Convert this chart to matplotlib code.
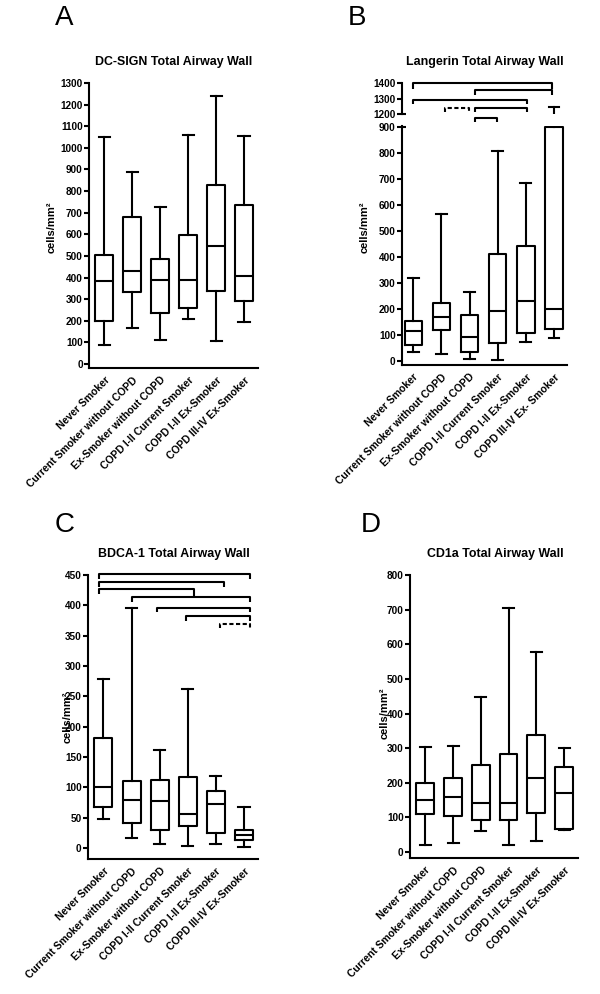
import matplotlib
matplotlib.use('Agg')
import matplotlib.pyplot as plt

plt.rcParams['font.family'] = ['Liberation Sans', 'DejaVu Sans']

groups = ['Never Smoker', 'Current Smoker without COPD', 'Ex-Smoker without COPD',
          'COPD I-II Current Smoker', 'COPD I-II Ex-Smoker', 'COPD III-IV Ex-Smoker']
groups_b = groups[:5] + ['COPD III-IV Ex- Smoker']
pos = [1, 2, 3, 4, 5, 6]

# box summaries: whisker low, Q1, median, Q3, whisker high
dcsign_lo = [90, 165, 110, 208, 106, 194]
dcsign_q1 = [200, 335, 237, 260, 339, 293]
dcsign_med = [383, 430, 387, 390, 544, 405]
dcsign_q3 = [505, 680, 487, 598, 826, 737]
dcsign_hi = [1050, 890, 725, 1058, 1238, 1053]

lang_lo = [36, 28, 9, 4, 72, 87]
lang_q1 = [60, 118, 35, 70, 106, 122]
lang_med = [115, 170, 91, 192, 231, 199]
lang_q3 = [154, 224, 178, 410, 440, 900]
lang_hi = [318, 563, 264, 805, 685, 1250]

bdca_lo = [48, 17, 6, 3, 7, 1]
bdca_q1 = [67, 42, 29, 37, 25, 14]
bdca_med = [100, 80, 77, 56, 73, 22]
bdca_q3 = [181, 111, 113, 117, 94, 29]
bdca_hi = [278, 395, 161, 262, 118, 68]

cd1a_lo = [21, 27, 61, 21, 31, 64]
cd1a_q1 = [110, 105, 93, 93, 112, 66]
cd1a_med = [151, 158, 141, 143, 215, 172]
cd1a_q3 = [199, 215, 252, 283, 338, 245]
cd1a_hi = [303, 305, 448, 706, 579, 302]

# significance brackets: x start, x end, height, left drop, right drop, dashed
lang_br_x0 = [1.0, 3.19, 1.0, 2.13, 3.19, 3.19]
lang_br_x1 = [5.92, 5.92, 5.03, 2.98, 5.03, 3.97]
lang_br_y = [1405, 1355, 1295, 1243, 1240, 1178]
lang_br_dl = [40, 32, 30, 26, 27, 30]
lang_br_dr = [40, 32, 30, 26, 27, 30]
lang_br_dash = [False, False, False, True, False, False]

bdca_br_x0 = [0.85, 0.85, 0.85, 2.0, 2.89, 3.94, 5.13]
bdca_br_x1 = [6.23, 5.29, 4.24, 6.23, 6.23, 6.23, 6.23]
bdca_br_y = [451, 439, 427, 414, 396, 382, 369]
bdca_br_dl = [8, 8, 8, 8, 7, 8, 7]
bdca_br_dr = [8, 8, 13, 8, 7, 8, 7]
bdca_br_dash = [False, False, False, False, False, False, True]

W, H = 600, 994
fig = plt.figure(figsize=(W / 100, H / 100), dpi=100)


def rect(left, top, right, bottom):
    return [left / W, 1 - bottom / H, (right - left) / W, (bottom - top) / H]


def draw_boxes(ax, lo, q1, med, q3, hi, width=0.64):
    stats = []
    for i in range(len(lo)):
        stats.append({'whislo': lo[i], 'q1': q1[i], 'med': med[i],
                      'q3': q3[i], 'whishi': hi[i], 'fliers': []})
    st = dict(color='black', linewidth=1.5)
    ax.bxp(stats, positions=pos, widths=width, capwidths=width * 0.62,
           showfliers=False, boxprops=st, medianprops=st,
           whiskerprops=st, capprops=st)


def style(ax, ticks, labels=None):
    for s in ['top', 'right']:
        ax.spines[s].set_visible(False)
    for s in ['left', 'bottom']:
        ax.spines[s].set_linewidth(1.5)
    ax.set_yticks(ticks)
    ax.set_yticklabels([str(t) for t in ticks], fontsize=7.2, weight='bold')
    ax.tick_params(axis='y', length=3.5, width=1.5, pad=1)
    if labels is not None:
        ax.set_xticks(pos)
        ax.set_xticklabels(labels, rotation=45, ha='right', va='top',
                           rotation_mode='anchor', fontsize=7.5, weight='bold')
        ax.tick_params(axis='x', length=0, pad=5)


def brackets(ax, x0, x1, y, dl, dr, dash):
    for i in range(len(x0)):
        ax.plot([x0[i], x0[i], x1[i], x1[i]],
                [y[i] - dl[i], y[i], y[i], y[i] - dr[i]],
                color='black', lw=1.5, ls=(0, (2, 1.2)) if dash[i] else '-',
                clip_on=False, solid_capstyle='butt', dash_capstyle='butt')


def head(letter, title, lx, ly, tx, ty, yx, yy):
    fig.text(lx / W, 1 - ly / H, letter, fontsize=20, ha='left', va='center')
    fig.text(tx / W, 1 - ty / H, title, fontsize=8.9, weight='bold',
             ha='center', va='center')
    fig.text(yx / W, 1 - yy / H, 'cells/mm²', fontsize=8, weight='bold',
             rotation=90, ha='center', va='center')


# A
axA = fig.add_axes(rect(89, 83, 258, 368))
draw_boxes(axA, dcsign_lo, dcsign_q1, dcsign_med, dcsign_q3, dcsign_hi)
axA.set_xlim(0.45, 6.5)
axA.set_ylim(-18.5, 1300)
style(axA, list(range(0, 1301, 100)), groups)
head('A', 'DC-SIGN Total Airway Wall', 55, 18, 174, 62, 52, 227)

# B (broken axis)
axB = fig.add_axes(rect(402, 125.9, 567, 365))
draw_boxes(axB, lang_lo, lang_q1, lang_med, lang_q3, lang_hi, width=0.62)
axB.set_xlim(0.6, 6.46)
axB.set_ylim(-15.4, 903)
style(axB, list(range(0, 901, 100)), groups_b)

axB2 = fig.add_axes(rect(402, 83.3, 567, 114.3))
draw_boxes(axB2, lang_lo, lang_q1, lang_med, lang_q3, lang_hi, width=0.62)
axB2.set_xlim(0.6, 6.46)
axB2.set_ylim(1200, 1400)
style(axB2, [1200, 1300, 1400])
axB2.spines['bottom'].set_visible(False)
axB2.set_xticks([])
# break marks crossing the axis
axB.plot([0, 0.022], [900, 900], transform=axB.get_yaxis_transform(),
         color='black', lw=1.5, clip_on=False, solid_capstyle='butt')
axB2.plot([0, 0.022], [1200, 1200], transform=axB2.get_yaxis_transform(),
          color='black', lw=1.5, clip_on=False, solid_capstyle='butt')
brackets(axB2, lang_br_x0, lang_br_x1, lang_br_y, lang_br_dl, lang_br_dr, lang_br_dash)
head('B', 'Langerin Total Airway Wall', 348, 18, 485, 62, 365, 227)

# C
axC = fig.add_axes(rect(88, 575, 258, 859))
draw_boxes(axC, bdca_lo, bdca_q1, bdca_med, bdca_q3, bdca_hi)
axC.set_xlim(0.45, 6.5)
axC.set_ylim(-18, 450)
style(axC, list(range(0, 451, 50)), groups)
brackets(axC, bdca_br_x0, bdca_br_x1, bdca_br_y, bdca_br_dl, bdca_br_dr, bdca_br_dash)
head('C', 'BDCA-1 Total Airway Wall', 55, 525, 174, 554, 68, 717)

# D
axD = fig.add_axes(rect(410, 575, 578, 858))
draw_boxes(axD, cd1a_lo, cd1a_q1, cd1a_med, cd1a_q3, cd1a_hi)
axD.set_xlim(0.45, 6.5)
axD.set_ylim(-17, 800)
style(axD, list(range(0, 801, 100)), groups)
head('D', 'CD1a Total Airway Wall', 361, 525, 495, 554, 385, 713)

fig.savefig('out.png', dpi=100)
